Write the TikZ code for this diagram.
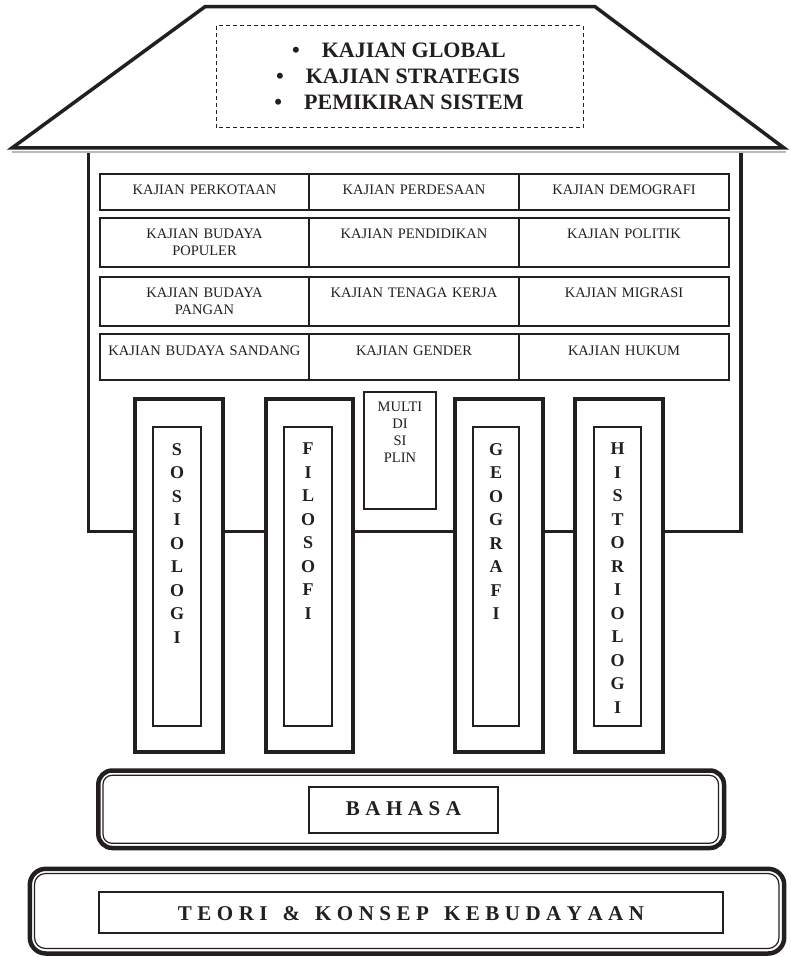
\documentclass[tikz,border=0pt]{standalone}
\usepackage{fontspec}
\setmainfont{Liberation Serif}
\definecolor{ink}{RGB}{35,31,32}
% letter and word gaps for the spaced captions
\newcommand\lsp{\hspace{5.5pt}}
\newcommand\wsp{\hspace{15pt}}
\begin{document}
\begin{tikzpicture}[x=1pt,y=-1pt,
  heavy/.style={draw=ink,line width=3.8pt},
  thinbox/.style={draw=ink,line width=1.2pt},
  cell/.style={anchor=north,text width=206pt,align=center,inner sep=0pt,text=ink,
    font=\fontsize{14.5}{17}\selectfont},
  pillartext/.style={anchor=north,align=center,inner sep=0pt,text=ink,
    font=\bfseries\fontsize{18}{23.5}\selectfont},
  rooftext/.style={anchor=base,inner sep=0pt,text=ink,
    font=\bfseries\fontsize{22}{26}\selectfont},
  basetext/.style={anchor=base,inner sep=0pt,text=ink,
    font=\bfseries\fontsize{21}{25}\selectfont}]
\useasboundingbox (0,0) rectangle (790,957);
\fill[white] (0,0) rectangle (790,957);

% walls of the house
\draw[heavy] (88.5,153) -- (88.5,531.5) -- (741,531.5) -- (741,153);

% roof with its shadow
\draw[gray!55,line width=2.2pt] (12,152) -- (786,152);
\draw[heavy,line width=3.5pt,fill=white,line join=miter]
  (12,148) -- (205,6.7) -- (595,6.7) -- (784,148) -- cycle;
\draw[ink,line width=1pt,dash pattern=on 4pt off 3pt] (216,26) rectangle (583,128);
\node[rooftext] (r1) at (399,57.5)  {\textbullet\hspace{22pt}KAJIAN GLOBAL};
\node[rooftext] (r2) at (398,83.5)  {\textbullet\hspace{22pt}KAJIAN STRATEGIS};
\node[rooftext] (r3) at (399,110)   {\textbullet\hspace{22pt}PEMIKIRAN SISTEM};

% table of studies
\foreach \t/\b in {174/210, 218/267, 277/326, 334/380}{
  \draw[thinbox] (100,\t) rectangle (729,\b);
  \draw[thinbox] (309,\t) -- (309,\b);
  \draw[thinbox] (519,\t) -- (519,\b);
}
\node[cell] (c11) at (204.5,185) {KAJIAN PERKOTAAN};
\node[cell] (c12) at (414,185)   {KAJIAN PERDESAAN};
\node[cell] (c13) at (624,185)   {KAJIAN DEMOGRAFI};
\node[cell] (c21) at (204.5,229) {KAJIAN BUDAYA\\POPULER};
\node[cell] (c22) at (414,229)   {KAJIAN PENDIDIKAN};
\node[cell] (c23) at (624,229)   {KAJIAN POLITIK};
\node[cell] (c31) at (204.5,288) {KAJIAN BUDAYA\\PANGAN};
\node[cell] (c32) at (414,288)   {KAJIAN TENAGA KERJA};
\node[cell] (c33) at (624,288)   {KAJIAN MIGRASI};
\node[cell] (c41) at (204.5,346) {KAJIAN BUDAYA SANDANG};
\node[cell] (c42) at (414,346)   {KAJIAN GENDER};
\node[cell] (c43) at (624,346)   {KAJIAN HUKUM};

% pillars
\foreach \l/\r in {135/223, 266/353, 455/543, 575/663}
  \draw[heavy,fill=white] (\l,399) rectangle (\r,752);
\draw[thinbox] (153,427) rectangle (201,726);
\draw[thinbox] (284,427) rectangle (332,726);
\draw[thinbox] (473,427) rectangle (519,726);
\draw[thinbox] (594,427) rectangle (641,726);
\node[pillartext] (sos) at (177,443)   {S\\O\\S\\I\\O\\L\\O\\G\\I};
\node[pillartext] (fil) at (308,443)   {F\\I\\L\\O\\S\\O\\F\\I};
\node[pillartext] (geo) at (496,443)   {G\\E\\O\\G\\R\\A\\F\\I};
\node[pillartext] (his) at (617.5,443) {H\\I\\S\\T\\O\\R\\I\\O\\L\\O\\G\\I};

% multidisciplinary block
\draw[thinbox] (364,392) rectangle (436,509);
\node[cell,text width=70pt] (multi) at (400,402) {MULTI\\DI\\SI\\PLIN};

% language step
\draw[ink,line width=4.5pt,rounded corners=14pt] (98.3,770.5) rectangle (724,848);
\draw[ink,line width=1.2pt,rounded corners=9pt] (103,775.3) rectangle (718.5,843.3);
\draw[thinbox] (309,787) rectangle (498,833);
\node[basetext] (bahasa) at (403.5,815) {B\lsp A\lsp H\lsp A\lsp S\lsp A};

% foundation
\draw[ink,line width=4.5pt,rounded corners=16pt] (29.8,868.8) rectangle (784.2,953.5);
\draw[ink,line width=1.2pt,rounded corners=11pt] (34.5,873.5) rectangle (779,948.5);
\draw[thinbox] (99,892) rectangle (723,933);
\node[basetext] (teori) at (411,920)
  {T\lsp E\lsp O\lsp R\lsp I\wsp\&\wsp K\lsp O\lsp N\lsp S\lsp E\lsp P\wsp K\lsp E\lsp B\lsp U\lsp D\lsp A\lsp Y\lsp A\lsp A\lsp N};
\end{tikzpicture}
\end{document}
